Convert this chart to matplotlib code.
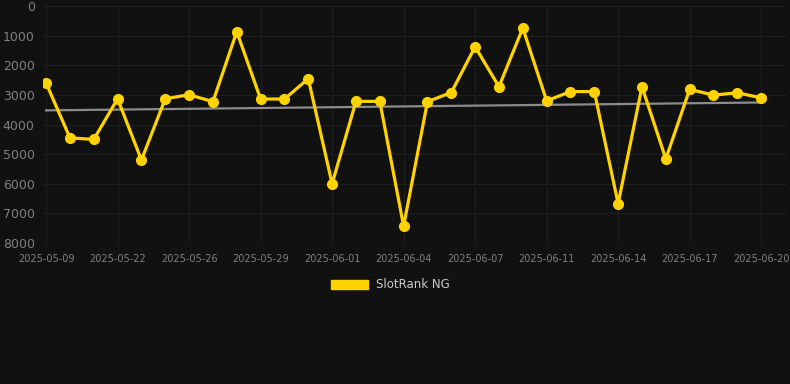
import matplotlib
matplotlib.use("Agg")
import matplotlib.pyplot as plt
from matplotlib.patches import Patch
import numpy as np

dates = ["2025-05-09", "2025-05-12", "2025-05-18", "2025-05-22", "2025-05-23",
         "2025-05-25", "2025-05-26", "2025-05-27", "2025-05-28", "2025-05-29",
         "2025-05-30", "2025-05-31", "2025-06-01", "2025-06-02", "2025-06-03",
         "2025-06-04", "2025-06-05", "2025-06-06", "2025-06-07", "2025-06-09",
         "2025-06-10", "2025-06-11", "2025-06-12", "2025-06-13", "2025-06-14",
         "2025-06-15", "2025-06-16", "2025-06-17", "2025-06-18", "2025-06-19",
         "2025-06-20"]
rank = [2600, 4450, 4505, 3130, 5200, 3130, 2995, 3230, 867, 3140,
        3140, 2455, 6000, 3220, 3220, 7430, 3230, 2920, 1375, 2725,
        743, 3200, 2890, 2890, 6670, 2725, 5160, 2815, 3007, 2930,
        3100]
series_name = "SlotRank NG"

bg = "#111111"
gold = "#FFD300"
tick_col = "#808080"
grid_col = "#1f1f1f"

x = np.arange(len(dates))
y = np.array(rank)

# linear trend over the series
k, b = np.polyfit(x, y, 1)
trend = k * x + b

fig = plt.figure(figsize=(7.9, 3.84), dpi=100, facecolor=bg)
ax = fig.add_axes([43 / 790, 1 - 243 / 384, 742 / 790, 237 / 384])
ax.set_facecolor(bg)

ax.plot(x, trend, color="#8c8c8c", lw=1.6, zorder=2)
ax.plot(x, y, color=gold, lw=2.3, marker="o", markersize=7, zorder=3)

ax.set_ylim(8000, 0)
ax.set_yticks(range(0, 8001, 1000))
ax.set_xlim(-0.13, 31.0)
ax.set_xticks(x[::3])
ax.set_xticklabels(dates[::3])

ax.grid(True, color=grid_col, lw=0.8)
ax.set_axisbelow(True)
for s in ax.spines.values():
    s.set_visible(False)
ax.tick_params(axis="both", length=0, colors=tick_col)
ax.tick_params(axis="x", labelsize=7, pad=8)
ax.tick_params(axis="y", labelsize=9, pad=6)

fig.legend(handles=[Patch(facecolor=gold, edgecolor=gold, label=series_name)],
           loc="center", bbox_to_anchor=(390 / 790, 1 - 285 / 384),
           frameon=False, fontsize=8.5, labelcolor="#cccccc",
           handlelength=3.2, handleheight=0.9, handletextpad=0.6)

fig.savefig("out.png", dpi=100, facecolor=bg)
